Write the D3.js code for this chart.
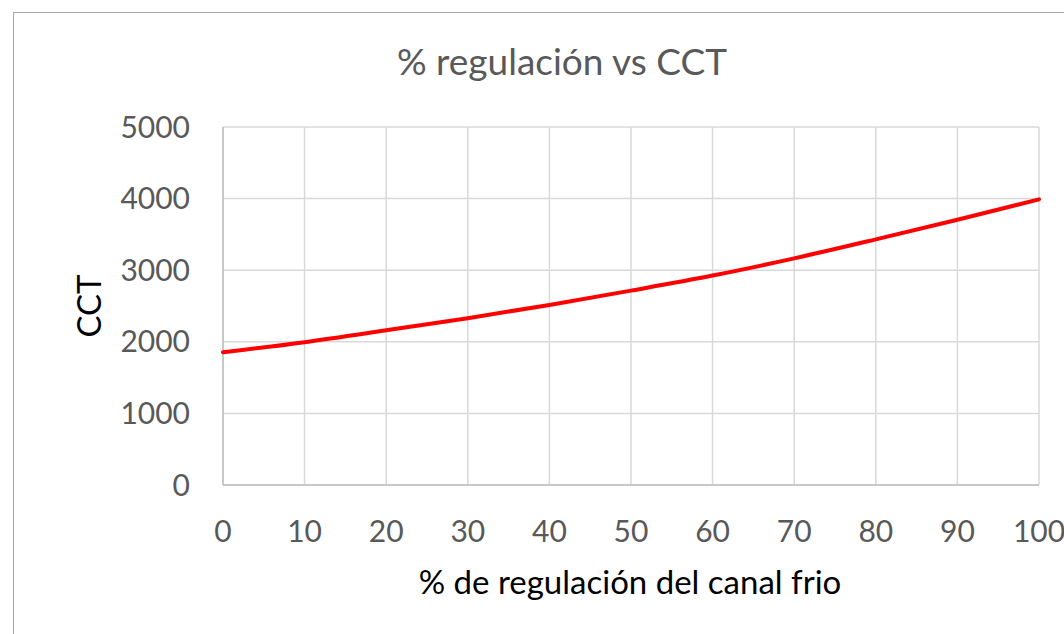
<!DOCTYPE html>
<html>
<head>
<meta charset="utf-8">
<script src="https://cdn.jsdelivr.net/npm/d3@7"></script>
<style>
  body { margin: 0; background: #fff; }
  text { font-family: Lato, "Open Sans", sans-serif; }
</style>
</head>
<body>
<div class="chart"></div>
<script>
// values
var regulacion = [0, 10, 20, 30, 40, 50, 60, 70, 80, 90, 100];
var cct = [1853, 1995, 2160, 2330, 2515, 2715, 2925, 3165, 3430, 3705, 3990];
var xTicks = [0, 10, 20, 30, 40, 50, 60, 70, 80, 90, 100];
var yTicks = [0, 1000, 2000, 3000, 4000, 5000];

var w = 1064, h = 634;
var svg = d3.select(".chart").append("svg")
    .attr("width", w)
    .attr("height", h);

// chart frame (cut by the window on the right and bottom)
svg.append("rect")
    .attr("x", 13.5).attr("y", 12.5)
    .attr("width", 1100).attr("height", 700)
    .attr("fill", "none")
    .attr("stroke", "#a6a6a6")
    .attr("stroke-width", 1);

var xScale = d3.scaleLinear().domain([0, 100]).range([223, 1039]);
var yScale = d3.scaleLinear().domain([0, 5000]).range([485, 127]);

// grid
svg.append("g").selectAll("line.v")
    .data(xTicks).enter().append("line")
    .attr("x1", d => xScale(d)).attr("x2", d => xScale(d))
    .attr("y1", yScale(0)).attr("y2", yScale(5000))
    .attr("stroke", "#d9d9d9").attr("stroke-width", 1.5);
svg.append("g").selectAll("line.h")
    .data(yTicks).enter().append("line")
    .attr("x1", xScale(0)).attr("x2", xScale(100))
    .attr("y1", d => yScale(d)).attr("y2", d => yScale(d))
    .attr("stroke", "#d9d9d9").attr("stroke-width", 1.5);

// axes lines a bit darker
svg.append("line")
    .attr("x1", xScale(0)).attr("x2", xScale(0))
    .attr("y1", yScale(0)).attr("y2", yScale(5000))
    .attr("stroke", "#bfbfbf").attr("stroke-width", 1.5);
svg.append("line")
    .attr("x1", xScale(0)).attr("x2", xScale(100))
    .attr("y1", yScale(0)).attr("y2", yScale(0))
    .attr("stroke", "#bfbfbf").attr("stroke-width", 1.5);

// tick labels
svg.append("g").selectAll("text")
    .data(yTicks).enter().append("text")
    .attr("x", 190)
    .attr("y", d => yScale(d))
    .attr("dy", "0.35em")
    .attr("text-anchor", "end")
    .attr("fill", "#595959")
    .style("font-size", "30px")
    .text(d => d);

svg.append("g").selectAll("text")
    .data(xTicks).enter().append("text")
    .attr("x", d => xScale(d))
    .attr("y", 531)
    .attr("dy", "0.35em")
    .attr("text-anchor", "middle")
    .attr("fill", "#595959")
    .style("font-size", "30px")
    .text(d => d);

// line
var line = d3.line()
    .x((d, i) => xScale(regulacion[i]))
    .y(d => yScale(d))
    .curve(d3.curveMonotoneX);

svg.append("path")
    .datum(cct)
    .attr("fill", "none")
    .attr("stroke", "#ff0000")
    .attr("stroke-width", 4)
    .attr("stroke-linecap", "round")
    .attr("d", line);

// titles
svg.append("text")
    .attr("x", 562).attr("y", 75)
    .attr("text-anchor", "middle")
    .attr("fill", "#595959")
    .style("font-size", "37px")
    .text("% regulación vs CCT");

svg.append("text")
    .attr("x", 630).attr("y", 594)
    .attr("text-anchor", "middle")
    .attr("fill", "#000")
    .style("font-size", "33px")
    .text("% de regulación del canal frio");

svg.append("text")
    .attr("transform", "translate(101,306) rotate(-90)")
    .attr("text-anchor", "middle")
    .attr("fill", "#000")
    .style("font-size", "33px")
    .text("CCT");
</script>
</body>
</html>
